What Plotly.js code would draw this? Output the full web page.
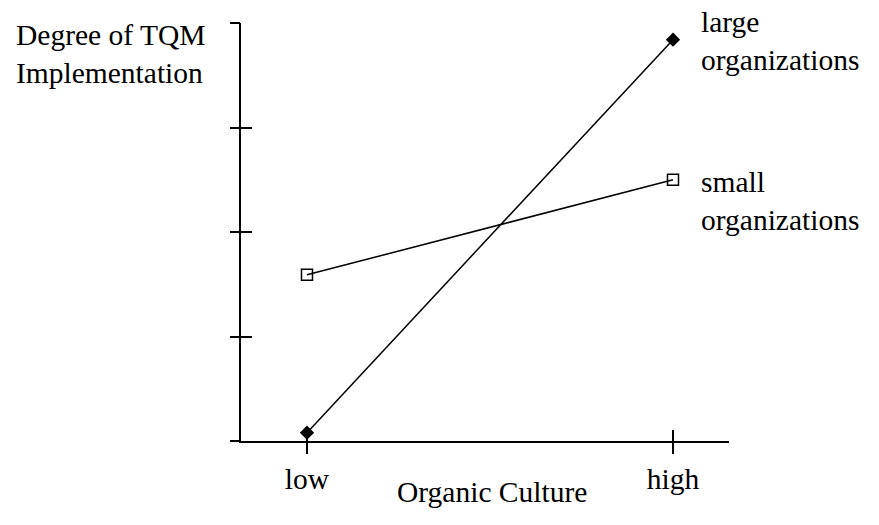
<!DOCTYPE html>
<html>
<head>
<meta charset="utf-8">
<script src="https://cdn.plot.ly/plotly-3.0.1.min.js"></script>
<style>html,body{margin:0;padding:0;background:#fff;}</style>
</head>
<body>
<div id="chart" style="width:879px;height:525px;"></div>
<script>
const categories = [0, 1];
const tickLabels = ['low', 'high'];
const largeOrg = [0.08, 3.84];
const smallOrg = [1.59, 2.50];
const seriesNames = ['large<br>organizations', 'small<br>organizations'];
const yTicks = [0, 1, 2, 3, 4];
const xTitle = 'Organic Culture';
const yTitle = 'Degree of TQM<br>Implementation';

const FONT = 'Liberation Serif';
const fs = 29.5;
const tf = {family: FONT, size: fs, color: '#000'};

const traces = [
  {x: categories, y: largeOrg, mode: 'lines+markers', type: 'scatter',
   line: {color: '#000', width: 1.5},
   marker: {symbol: 'diamond', size: 11, color: '#000'}, showlegend: false},
  {x: categories, y: smallOrg, mode: 'lines+markers', type: 'scatter',
   line: {color: '#000', width: 1.5},
   marker: {symbol: 'square-open', size: 11, color: '#000', line: {width: 1.5}}, showlegend: false},
  {x: [categories[0]], y: [yTicks[0]], xaxis: 'x2', yaxis: 'y2', mode: 'markers',
   marker: {opacity: 0}, hoverinfo: 'skip', showlegend: false}
];

const xr = [-0.1803, 1.153];
const yr = [yTicks[0], yTicks[yTicks.length - 1]];
const layout = {
  width: 879, height: 525,
  margin: {l: 241, r: 150, t: 23, b: 84},
  paper_bgcolor: '#fff', plot_bgcolor: 'rgba(0,0,0,0)',
  font: tf,
  xaxis: {range: xr, tickvals: categories, ticktext: tickLabels,
          ticks: 'outside', ticklen: 11, tickwidth: 2, tickcolor: '#000',
          showline: true, linewidth: 2, linecolor: '#000',
          showgrid: false, zeroline: false, fixedrange: true, tickfont: tf},
  xaxis2: {range: xr, overlaying: 'x', anchor: 'y2', side: 'bottom', tickvals: categories,
           ticks: 'inside', ticklen: 11, tickwidth: 2, tickcolor: '#000',
           showticklabels: false, showline: false, showgrid: false, zeroline: false},
  yaxis: {range: yr, tickvals: yTicks, ticks: 'inside', ticklen: 11, tickwidth: 2, tickcolor: '#000',
          showticklabels: false, showline: true, linewidth: 2, linecolor: '#000',
          showgrid: false, zeroline: false, fixedrange: true},
  yaxis2: {range: yr, overlaying: 'y', anchor: 'x2', side: 'left', tickvals: yTicks,
           ticks: 'outside', ticklen: 10, tickwidth: 2, tickcolor: '#000',
           showticklabels: false, showline: false, showgrid: false, zeroline: false},
  annotations: [
    {x: categories[1], y: largeOrg[1], xref: 'x', yref: 'y', text: seriesNames[0],
     showarrow: false, xanchor: 'left', yanchor: 'middle', align: 'left', xshift: 26, yshift: -1, font: tf},
    {x: categories[1], y: smallOrg[1], xref: 'x', yref: 'y', text: seriesNames[1],
     showarrow: false, xanchor: 'left', yanchor: 'middle', align: 'left', xshift: 26, yshift: -21, font: tf},
    {x: -0.465, y: 0.925, xref: 'paper', yref: 'paper', text: yTitle,
     showarrow: false, xanchor: 'left', yanchor: 'middle', align: 'left', font: tf},
    {x: 0.514, y: -0.122, xref: 'paper', yref: 'paper', text: xTitle,
     showarrow: false, xanchor: 'center', yanchor: 'middle', font: tf}
  ]
};

Plotly.newPlot('chart', traces, layout, {displayModeBar: false, staticPlot: true});
</script>
</body>
</html>
